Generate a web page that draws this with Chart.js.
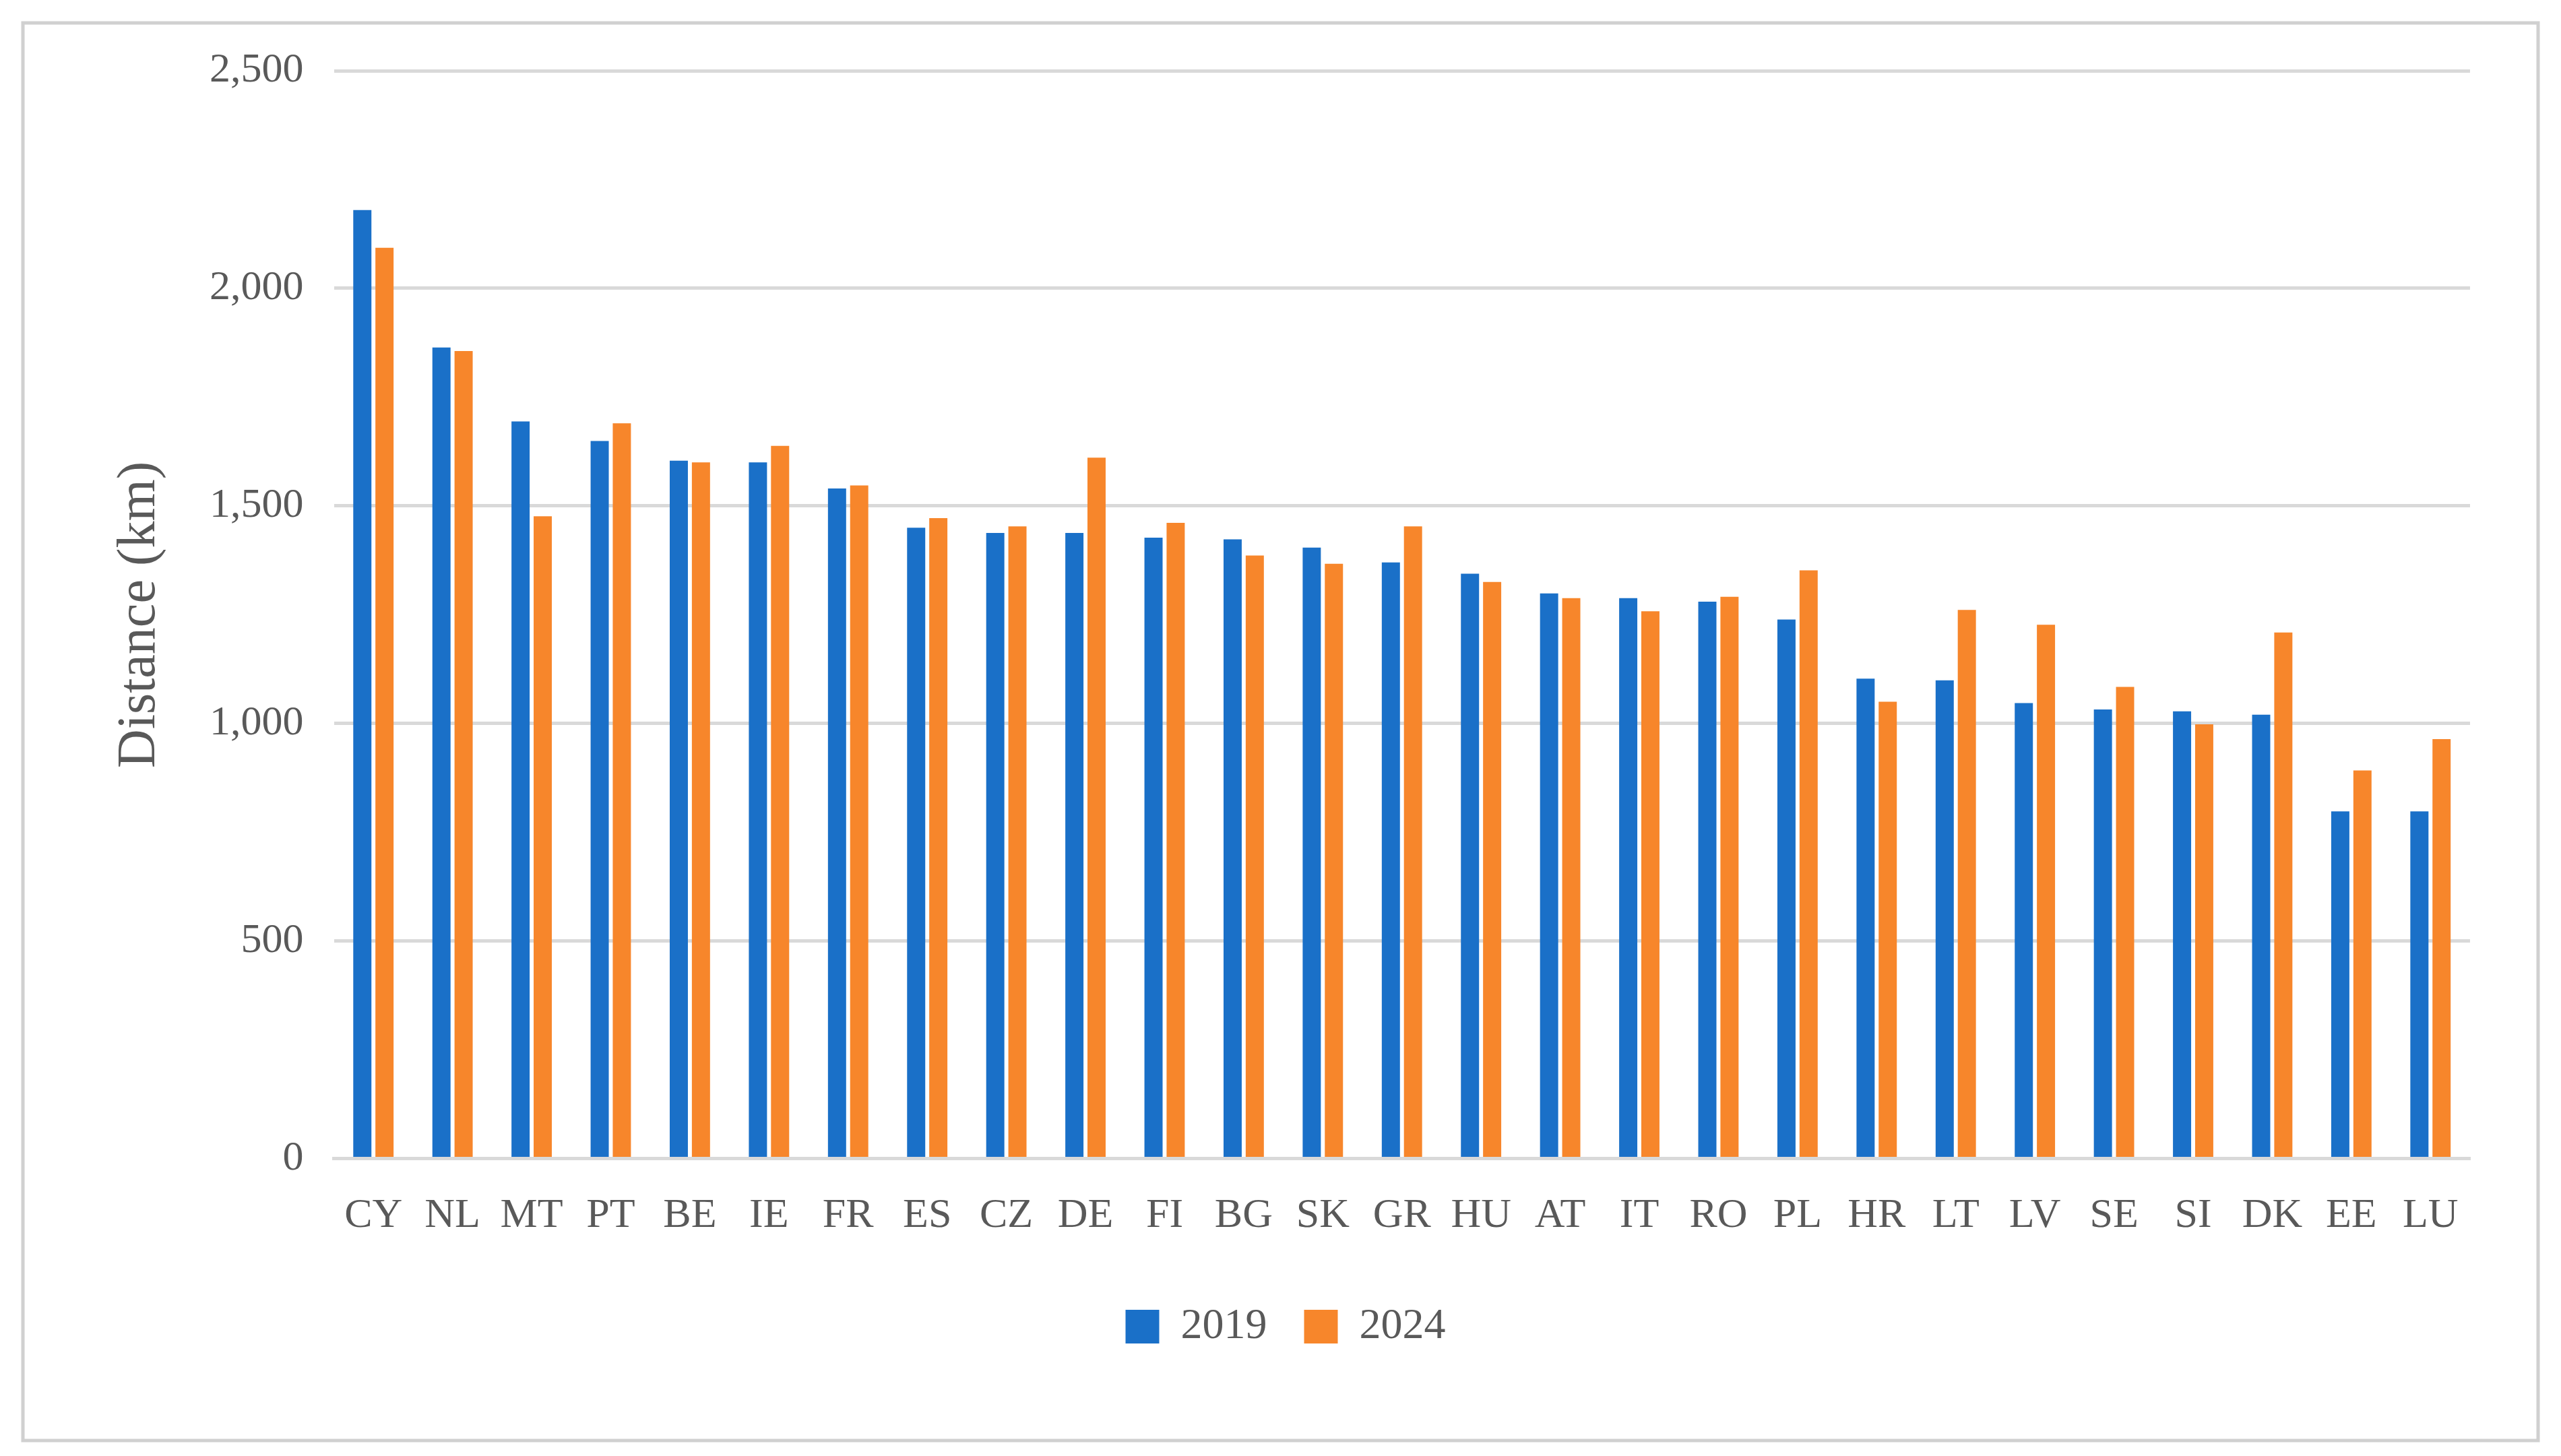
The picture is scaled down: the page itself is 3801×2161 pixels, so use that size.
<!DOCTYPE html>
<html>
<head>
<meta charset="utf-8">
<script src="https://cdn.jsdelivr.net/npm/chart.js@4"></script>
<style>
  body { margin: 0; background: #fff; }
  #wrap { width: 3801px; height: 2161px; }
</style>
</head>
<body>
<div id="wrap"><canvas id="myChart"></canvas></div>
<script>
const countries = ['CY','NL','MT','PT','BE','IE','FR','ES','CZ','DE','FI','BG','SK','GR','HU','AT','IT','RO','PL','HR','LT','LV','SE','SI','DK','EE','LU'];
const values2019 = [2180,1864,1694,1649,1604,1600,1540,1450,1438,1438,1427,1423,1404,1370,1344,1299,1288,1280,1239,1103,1099,1047,1032,1028,1020,798,798];
const values2024 = [2093,1856,1476,1690,1600,1638,1547,1472,1453,1611,1461,1386,1367,1453,1325,1288,1258,1291,1352,1050,1261,1227,1084,998,1209,892,964];

const serif = "'Liberation Serif', 'DejaVu Serif', serif";

// grey frame around the whole chart
const frame = {
  id: 'frame',
  afterDraw(chart) {
    const ctx = chart.ctx;
    ctx.save();
    ctx.strokeStyle = '#d0d0d0';
    ctx.lineWidth = 5;
    ctx.strokeRect(34, 34, 3733, 2104);
    ctx.restore();
  }
};

const data = {
  labels: countries,
  datasets: [
    { label: '2019', data: values2019, backgroundColor: '#1a70c8',
      barPercentage: 0.82, categoryPercentage: 0.56 },
    { label: '2024', data: values2024, backgroundColor: '#f7862b',
      barPercentage: 0.82, categoryPercentage: 0.56 }
  ]
};

const config = {
  type: 'bar',
  data: data,
  plugins: [frame],
  options: {
    responsive: false,
    animation: false,
    devicePixelRatio: 1,
    layout: { padding: { left: 150, right: 135, top: 105, bottom: 150 } },
    plugins: {
      legend: {
        position: 'bottom',
        labels: {
          font: { family: serif, size: 64 },
          color: '#595959',
          boxWidth: 50, boxHeight: 50,
          padding: 55
        }
      },
      tooltip: { enabled: false }
    },
    scales: {
      x: {
        grid: { display: false },
        border: { color: '#d9d9d9', width: 5 },
        ticks: { font: { family: serif, size: 62 }, color: '#595959', autoSkip: false, maxRotation: 0, padding: 40 }
      },
      y: {
        min: 0, max: 2500,
        ticks: { stepSize: 500, font: { family: serif, size: 62 }, color: '#595959', padding: 45,
          callback: v => v.toLocaleString('en-US') },
        grid: { color: '#d9d9d9', lineWidth: 5, drawTicks: false },
        border: { display: false },
        title: { display: true, text: 'Distance (km)', font: { family: serif, size: 80 }, color: '#595959', padding: 10 }
      }
    }
  }
};

const canvas = document.getElementById('myChart');
canvas.width = 3801;
canvas.height = 2161;
new Chart(canvas, config);
</script>
</body>
</html>
